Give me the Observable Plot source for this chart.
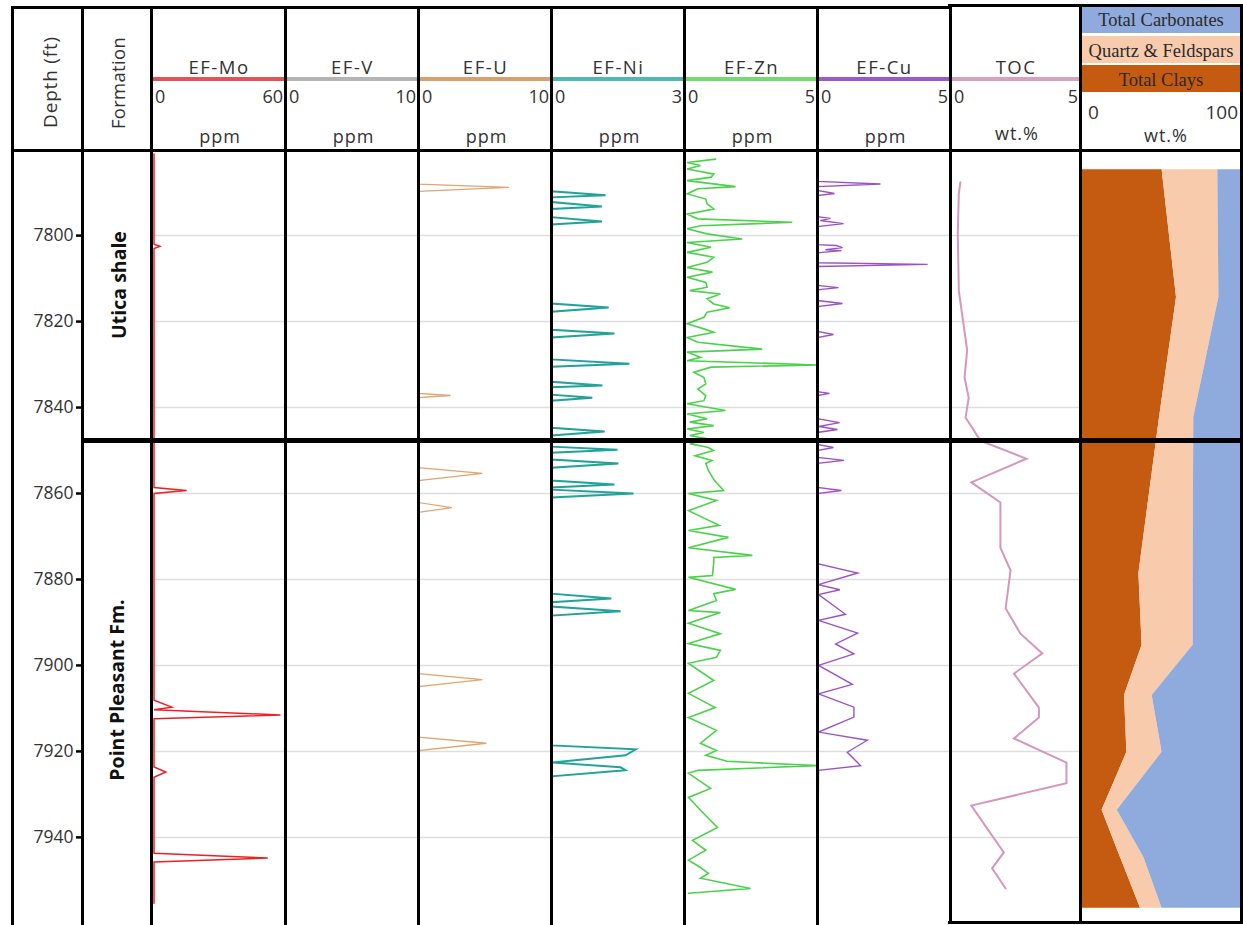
<!DOCTYPE html>
<html><head><meta charset="utf-8">
<script src="https://cdn.jsdelivr.net/npm/d3@7"></script>
<script src="https://cdn.jsdelivr.net/npm/@observablehq/plot@0.6"></script>
<style>
body{margin:0;background:#fff;}
#chart{position:relative;width:1243px;height:925px;overflow:hidden;font-family:"Open Sans",sans-serif;color:#333;background:#fff;}
.abs{position:absolute;}
.abs svg{display:block;overflow:visible;}
.t{position:absolute;white-space:nowrap;line-height:1;}
.b{position:absolute;background:#000;}
</style></head><body><div id="chart"></div>
<script>
// ---------------- DATA ----------------
const depthTicks = [7800, 7820, 7840, 7860, 7880, 7900, 7920, 7940];
const depthDomain = [7780.2, 7960.5];
const formations = ["Utica shale", "Point Pleasant Fm."];

// [depth ft, EF value]
const moData = [[7781,0],[7802.0,0],[7802.5,2.7],[7803.0,0],[7858.6,0],[7859.3,14.9],[7860.0,0],[7908.1,0],[7909.7,8.1],[7910.3,0],[7911.5,57.7],[7912.4,0],[7923.6,0],[7924.8,5.4],[7926.0,0],[7943.7,0],[7944.8,51.9],[7945.7,0],[7955.3,0]];
const vData = [[7784,0],[7955,0]];
const uData = [[7784,0],[7788.0,0],[7788.8,6.8],[7789.7,0],[7836.7,0],[7837.2,2.4],[7837.7,0],[7854.0,0],[7855.3,4.8],[7857.0,0],[7862.1,0],[7863.3,2.5],[7864.4,0],[7901.9,0],[7903.3,4.8],[7904.9,0],[7916.7,0],[7918.1,5.1],[7919.8,0],[7955,0]];
const niData = [[7784,0],[7789.7,0],[7790.6,1.22],[7791.1,0],[7792.2,0],[7793.2,1.14],[7793.8,0],[7795.7,0],[7796.7,1.14],[7797.4,0],[7815.8,0],[7816.7,1.29],[7817.7,0],[7821.9,0],[7822.8,1.42],[7823.7,0],[7828.8,0],[7829.8,1.76],[7830.5,0],[7834.0,0],[7834.9,1.15],[7835.3,0],[7837.0,0],[7837.7,0.92],[7838.4,0],[7844.7,0],[7845.6,1.2],[7846.5,0],[7849.1,0],[7849.8,1.49],[7850.5,0],[7852.1,0],[7853.0,1.51],[7854.0,0],[7857.0,0],[7857.9,1.42],[7858.6,0],[7859.1,0],[7860.0,1.85],[7860.9,0],[7883.3,0],[7884.4,1.35],[7885.3,0],[7886.3,0],[7887.4,1.56],[7888.4,0],[7918.6,0],[7919.5,1.9],[7920.9,1.67],[7922.6,0.02],[7923.7,1.56],[7924.4,1.67],[7925.8,0],[7955,0]];
const znData = [[7782.2,1.17],[7783.0,0.1],[7783.7,0.6],[7784.5,0.1],[7785.7,1.1],[7786.4,1.0],[7787.2,0.1],[7788.6,1.92],[7789.1,0.5],[7790.3,0.1],[7791.5,0.8],[7792.6,0.85],[7793.8,1.1],[7795.0,0.1],[7796.1,0.5],[7796.9,4.05],[7797.7,0.6],[7798.4,0.1],[7799.6,0.85],[7800.8,2.17],[7801.6,0.1],[7802.7,1.0],[7803.9,0.1],[7805.0,1.1],[7806.2,0.85],[7807.4,0.1],[7808.5,1.05],[7809.7,0.1],[7810.9,0.8],[7812.0,0.85],[7812.8,0.2],[7813.6,1.35],[7814.7,0.85],[7815.9,1.1],[7816.8,1.7],[7817.8,0.85],[7819.0,0.73],[7820.5,0.1],[7821.7,0.73],[7822.5,1.1],[7823.7,0.1],[7824.8,0.5],[7826.4,2.92],[7827.1,0.1],[7828.3,0.6],[7829.1,0.1],[7830.1,4.99],[7830.6,1.0],[7831.8,0.35],[7833.0,0.73],[7834.5,0.8],[7835.7,0.5],[7837.2,0.8],[7838.4,0.73],[7839.1,0.1],[7840.7,1.54],[7841.5,0.1],[7842.6,0.85],[7843.4,0.2],[7844.2,1.1],[7845.0,0.1],[7845.8,0.73],[7846.5,0.2],[7847.3,0.9],[7848.4,0.2],[7849.3,0.9],[7850.0,1.09],[7851.2,0.4],[7852.3,1.03],[7853.0,0.8],[7854.7,0.9],[7857.0,1.13],[7859.3,1.47],[7860.0,0.15],[7861.6,1.2],[7864.0,0.15],[7867.4,1.3],[7868.6,0.15],[7870.2,1.65],[7872.6,0.15],[7874.4,2.55],[7874.9,1.1],[7876.0,1.1],[7879.1,1.05],[7879.5,0.15],[7882.3,1.92],[7883.3,1.1],[7884.9,1.2],[7887.2,0.15],[7887.7,1.35],[7890.2,0.15],[7892.6,1.35],[7894.9,0.15],[7896.5,1.35],[7898.1,1.2],[7899.5,0.15],[7903.5,1.1],[7906.5,0.15],[7909.8,1.15],[7912.1,0.15],[7915.1,1.2],[7918.1,0.6],[7919.8,1.2],[7920.9,0.8],[7922.3,1.6],[7923.3,4.95],[7924.4,0.5],[7925.1,0.15],[7928.6,0.98],[7930.7,0.15],[7933.7,0.6],[7937.7,1.24],[7940.7,0.3],[7943.0,0.8],[7945.3,0.15],[7947.0,0.6],[7948.4,0.9],[7949.5,0.6],[7951.9,2.48],[7953.0,0.15]];
const cuData = [[7784,0],[7787.4,0],[7788.0,2.37],[7788.6,0],[7789.5,0],[7790.2,0.64],[7790.7,0],[7795.6,0],[7796.0,0.49],[7796.5,0.1],[7797.2,0.98],[7797.9,0],[7802.1,0],[7802.3,0.7],[7802.8,0.94],[7803.3,0.3],[7803.5,0.9],[7804.0,0],[7806.3,0],[7806.7,4.14],[7807.2,0],[7811.6,0],[7812.1,0.79],[7812.6,0],[7815.1,0],[7815.8,0.94],[7816.5,0],[7822.3,0],[7823.0,0.6],[7823.7,0],[7836.3,0],[7836.7,0.45],[7837.2,0],[7842.6,0],[7843.5,0.83],[7844.4,0.05],[7845.1,0.75],[7845.8,0],[7848.6,0],[7849.3,0.6],[7850.0,0],[7851.6,0],[7852.3,1.0],[7853.0,0],[7858.6,0],[7859.3,0.9],[7860.0,0],[7876.3,0],[7878.5,1.51],[7881.2,0.04],[7882.4,0.84],[7883.5,0.04],[7888.1,1.05],[7889.5,0.04],[7892.5,1.51],[7895.0,0.68],[7897.3,1.37],[7900.0,0.04],[7904.4,1.31],[7906.6,0.04],[7909.7,1.37],[7912.0,1.37],[7915.5,0.04],[7917.4,1.87],[7920.2,1.12],[7923.3,1.62],[7924.4,0.04],[7955,0]];
const tocData = [[7787.6,0.38],[7790.2,0.32],[7799.5,0.28],[7812.8,0.32],[7826.7,0.64],[7833.0,0.54],[7837.7,0.7],[7842.3,0.58],[7847.7,1.15],[7851.9,2.92],[7857.4,0.8],[7862.1,1.92],[7872.6,1.92],[7877.9,2.31],[7886.7,2.12],[7892.6,2.69],[7897.2,3.53],[7901.9,2.44],[7909.8,3.4],[7912.1,3.4],[7917.0,2.44],[7922.6,4.46],[7927.4,4.46],[7932.6,0.8],[7943.5,2.05],[7947.2,1.6],[7951.9,2.12]];

// mineralogy (wt.%)
const minDepth   = [7784.7, 7814.4, 7842.3, 7878.6, 7895.3, 7907.0, 7920.2, 7933.7, 7944.7, 7956.5];
const clays      = [51, 60, 49.4, 36.5, 38.5, 27.5, 29, 13.5, 25, 37.5];
const quartzFeld = [34.8, 26.5, 21.4, 33.9, 31.9, 17.3, 22, 9.5, 14.6, 13.5];
const carbonates = [14.2, 13.5, 29.2, 29.6, 29.6, 55.2, 49, 77, 60.4, 49];
const mineralNames = ["Total Clays", "Quartz & Feldspars", "Total Carbonates"];
const mineralColors = ["#c55a11", "#f8cbad", "#8faadc"];

// ---------------- LAYOUT ----------------
const chart = document.getElementById("chart");
const TOP = 150, H = 775;

function txt(s, x, y, o = {}) {
  const el = document.createElement("div");
  el.className = "t";
  el.textContent = s;
  el.style.left = x + "px"; el.style.top = y + "px";
  el.style.fontSize = (o.size || 17) + "px";
  if (o.weight) el.style.fontWeight = o.weight;
  if (o.family) el.style.fontFamily = o.family;
  el.style.color = o.color || "#333";
  if (o.ls) el.style.letterSpacing = o.ls + "px";
  const tx = o.anchor === "end" ? "-100%" : o.anchor === "start" ? "0" : "-50%";
  el.style.transform = `translate(${tx},-50%)` + (o.rotate ? ` rotate(${o.rotate}deg)` : "");
  chart.appendChild(el);
  return el;
}
function rect(x, y, w, h, color) {
  const el = document.createElement("div");
  el.className = "b";
  el.style.left = x + "px"; el.style.top = y + "px";
  el.style.width = w + "px"; el.style.height = h + "px";
  el.style.background = color || "#000";
  chart.appendChild(el);
  return el;
}
function place(node, left) {
  const div = document.createElement("div");
  div.className = "abs";
  div.style.left = left + "px"; div.style.top = TOP + "px";
  div.appendChild(node);
  chart.appendChild(div);
}

const grid = Plot.gridY(depthTicks, {stroke: "#dedede", strokeOpacity: 1, strokeWidth: 1.5});

// curve tracks
const tracks = [
  {name: "EF-Mo", data: moData, max: 60, x0: 151, x1: 285, curve: "#ee2024", head: "#e05555", sw: 1.5, ml: 2.5, unit: "ppm"},
  {name: "EF-V",  data: vData,  max: 10, x0: 285, x1: 418, curve: "#a6a6a6", head: "#b4b4b4", sw: 1.5, unit: "ppm"},
  {name: "EF-U",  data: uData,  max: 10, x0: 418, x1: 551, curve: "#e2a570", head: "#d9a06a", sw: 1.3, unit: "ppm"},
  {name: "EF-Ni", data: niData, max: 3,  x0: 551, x1: 684, curve: "#21a39a", head: "#4dbab2", sw: 2, unit: "ppm"},
  {name: "EF-Zn", data: znData, max: 5,  x0: 684, x1: 817, curve: "#4ad24a", head: "#74dc6c", sw: 1.6, unit: "ppm"},
  {name: "EF-Cu", data: cuData, max: 5,  x0: 817, x1: 950, curve: "#9b52c9", head: "#9c58c6", sw: 1.4, unit: "ppm"},
  {name: "TOC",   data: tocData, max: 5, x0: 950, x1: 1080, curve: "#d597bb", head: "#d8a2bf", sw: 2, unit: "wt.%"}
];

for (const t of tracks) {
  const w = t.x1 - t.x0;
  const p = Plot.plot({
    width: w, height: H,
    marginTop: 0, marginBottom: 0, marginLeft: t.ml || 0, marginRight: 0,
    x: {domain: [0, t.max], axis: null},
    y: {domain: depthDomain, reverse: true, axis: null},
    style: {background: "transparent"},
    marks: [
      grid,
      Plot.lineX(t.data, {x: d => d[1], y: d => d[0], stroke: t.curve, strokeWidth: t.sw, strokeLinejoin: "miter", strokeMiterlimit: 4})
    ]
  });
  place(p, t.x0);
  // header
  const cx = (t.x0 + t.x1) / 2;
  txt(t.name, cx + 1, 67, {size: 18.5, ls: 1.5});
  rect(t.x0 + 1, 77, w - 1, 4, t.head);
  txt("0", t.x0 + 4, 96, {size: 18, anchor: "start"});
  txt(String(t.max), t.x1 - 2, 96, {size: 18, anchor: "end"});
  txt(t.unit, cx + 2, t.unit === "ppm" ? 136 : 133, {size: 18, ls: 1});
}

// mineralogy stacked track
const minRows = [];
minDepth.forEach((d, i) => {
  minRows.push({depth: d, mineral: mineralNames[0], value: clays[i]});
  minRows.push({depth: d, mineral: mineralNames[1], value: quartzFeld[i]});
  minRows.push({depth: d, mineral: mineralNames[2], value: carbonates[i]});
});
const minPlot = Plot.plot({
  width: 160, height: H,
  marginTop: 0, marginBottom: 0, marginLeft: 0, marginRight: 0,
  x: {domain: [0, 100], axis: null},
  y: {domain: depthDomain, reverse: true, axis: null},
  color: {domain: mineralNames, range: mineralColors},
  style: {background: "transparent"},
  marks: [
    grid,
    Plot.areaX(minRows, {y: "depth", x: "value", fill: "mineral", order: mineralNames, curve: "linear"})
  ]
});
place(minPlot, 1080);

// mineral legend header
const legendRows = [["Total Carbonates", 5, 28], ["Quartz & Feldspars", 36, 27], ["Total Clays", 65, 27]];
legendRows.forEach(([name, y, h]) => {
  const i = mineralNames.indexOf(name);
  rect(1081, y, 160, h, mineralColors[i]);
  txt(name, 1161, y + h / 2 + 1, {size: 18.5, family: '"Liberation Serif", serif', color: "#2a2a2a"});
});
txt("0", 1088, 112, {size: 19, anchor: "start"});
txt("100", 1238, 112, {size: 19, anchor: "end"});
txt("wt.%", 1166, 135, {size: 18, ls: 1});

// depth axis
const depthAxis = Plot.plot({
  width: 70, height: H,
  marginTop: 0, marginBottom: 0, marginLeft: 69, marginRight: 1,
  y: {domain: depthDomain, reverse: true},
  style: {background: "transparent", fontFamily: '"Open Sans", sans-serif', fontSize: "17.5px", color: "#333"},
  marks: [
    Plot.axisY(depthTicks, {anchor: "left", tickSize: 5, tickPadding: 3, tickFormat: d => String(d), stroke: "#000", strokeWidth: 2.5, fill: "#333", fontSize: 17.5})
  ]
});
place(depthAxis, 12);

// column headers
txt("Depth (ft)", 50, 82, {size: 19, ls: 0.8, rotate: -90});
txt("Formation", 118, 83, {size: 18.5, ls: 0.3, rotate: -90});
txt(formations[0], 119, 285, {size: 19.5, weight: 700, rotate: -90, color: "#111"});
txt(formations[1], 117, 690, {size: 19.5, weight: 700, rotate: -90, color: "#111"});

// borders
const vl = (x, y0, y1, t) => rect(x - t / 2 + 0.5, y0, t, y1 - y0);
[12, 82, 151, 285, 418, 551, 684, 817].forEach(x => vl(x, 6, 925, 3));
vl(950, 4, 924, 3.5);
vl(1080, 4, 924, 3.5);
vl(1241, 4, 924, 2.5);
rect(11, 6, 939, 2.5);        // top
rect(948, 4, 293, 3);         // top of TOC / mineral boxes
rect(11, 148.5, 1231, 3);     // header bottom
rect(82, 437.5, 1161, 5);     // formation boundary
rect(948, 921, 294, 3);       // bottom of TOC / mineral boxes
</script></body></html>
